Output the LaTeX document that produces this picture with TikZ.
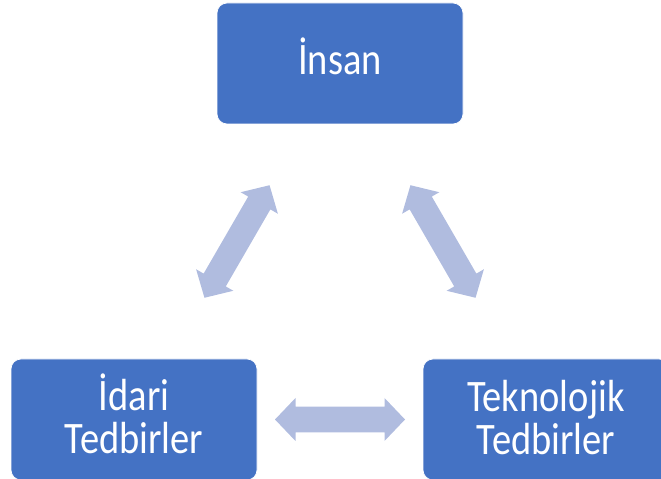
\documentclass[tikz,border=0pt]{standalone}
\usepackage{fontspec}
\newfontfamily\boxfont[FakeStretch=0.855]{Carlito}
\usetikzlibrary{calc}
\definecolor{boxblue}{HTML}{4472C4}
\definecolor{arrowblue}{RGB}{176,188,223}
\newcommand\blockarrow[2]{%
  \fill[arrowfill] let \p1=($(#2)-(#1)$), \n1={atan2(\y1,\x1)}, \p2=($(#1)!0.5!(#2)$) in
    ($(\p2)+(\n1:-65)$)
    -- ($(\p2)+(\n1:-44.5)+(\n1+90:21.5)$)
    -- ($(\p2)+(\n1:-44.5)+(\n1+90:12.8)$)
    -- ($(\p2)+(\n1:44.5)+(\n1+90:12.8)$)
    -- ($(\p2)+(\n1:44.5)+(\n1+90:21.5)$)
    -- ($(\p2)+(\n1:65)$)
    -- ($(\p2)+(\n1:44.5)+(\n1-90:21.5)$)
    -- ($(\p2)+(\n1:44.5)+(\n1-90:12.8)$)
    -- ($(\p2)+(\n1:-44.5)+(\n1-90:12.8)$)
    -- ($(\p2)+(\n1:-44.5)+(\n1-90:21.5)$)
    -- cycle;}
\begin{document}
\begin{tikzpicture}[x=1pt,y=1pt,
  box/.style={rectangle, rounded corners=10pt, fill=boxblue, draw=white,
    line width=0.75pt, minimum width=246pt, minimum height=121pt, inner sep=0pt},
  lbl/.style={text=white, font=\boxfont\fontsize{45}{43}\selectfont,
    align=center, inner sep=0pt},
  arrowfill/.style={fill=arrowblue}]
\useasboundingbox (0,0) rectangle (661,479);
\clip (0,0) rectangle (661,479);
\node[box] (insan) at (340,415.5) {};
\node[box] (idari) at (134,59.5) {};
\node[box] (tekno) at (546,59.5) {};
\node[lbl, anchor=base] (insanL) at ([yshift=-11.5pt]insan.center) {İnsan};
\node[lbl, anchor=base] (idariL) at ([yshift=-34.5pt]idari.center) {İdari\\Tedbirler};
\node[lbl, anchor=base] (teknoL) at ([yshift=-35pt]tekno.center) {Teknolojik\\Tedbirler};
\blockarrow{idari}{insan}
\blockarrow{insan}{tekno}
\blockarrow{idari}{tekno}
\end{tikzpicture}
\end{document}
